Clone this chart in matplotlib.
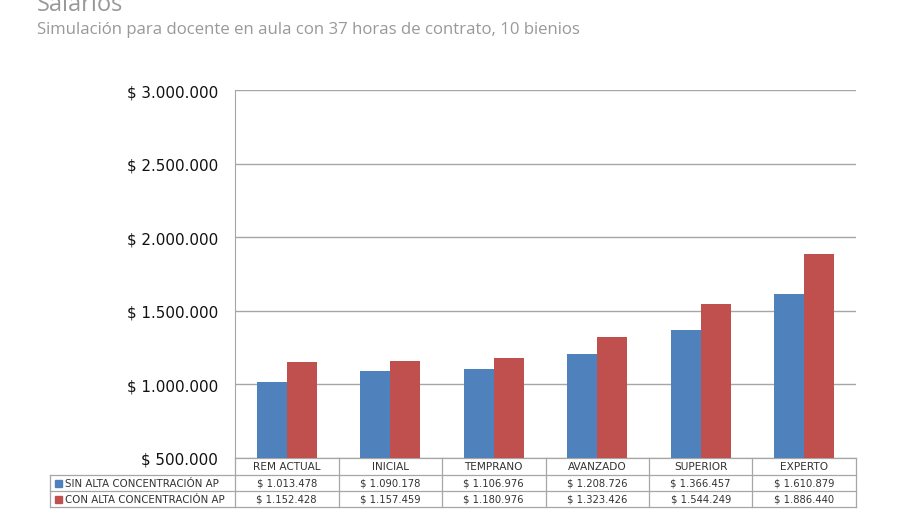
import numpy as np
import matplotlib.pyplot as plt
from matplotlib.patches import Rectangle

categories = ['REM ACTUAL', 'INICIAL', 'TEMPRANO', 'AVANZADO', 'SUPERIOR', 'EXPERTO']
series_names = ['SIN ALTA CONCENTRACIÓN AP', 'CON ALTA CONCENTRACIÓN AP']
sin_alta = [1013478, 1090178, 1106976, 1208726, 1366457, 1610879]
con_alta = [1152428, 1157459, 1180976, 1323426, 1544249, 1886440]
yticks = [500000, 1000000, 1500000, 2000000, 2500000, 3000000]

COLORS = ['#4F81BD', '#C0504D']
GRID = '#A6A6A6'


def money(v):
    return '$ ' + '{:,}'.format(v).replace(',', '.')


W, H = 900, 510
fig = plt.figure(figsize=(9, 5.1), dpi=100)
fig.patch.set_facecolor('white')

# axes box in pixels: left 235, right 856, top 91, bottom 459
ax = fig.add_axes([235 / W, 1 - 459 / H, (856 - 235) / W, (459 - 91) / H])

x = np.arange(len(categories))
bw = 0.29
ax.bar(x - bw / 2, sin_alta, width=bw, color=COLORS[0], zorder=3)
ax.bar(x + bw / 2, con_alta, width=bw, color=COLORS[1], zorder=3)

ax.set_xlim(-0.5, len(categories) - 0.5)
ax.set_ylim(yticks[0], yticks[-1])
ax.set_yticks(yticks)
ax.set_yticklabels([money(v) for v in yticks], fontsize=10.9, family='DejaVu Sans',
                   color='#111111')
ax.tick_params(axis='y', length=0, pad=12)
ax.set_xticks([])
ax.grid(axis='y', color=GRID, linewidth=1, zorder=0)
for s in ['top', 'right', 'bottom']:
    ax.spines[s].set_visible(False)
ax.spines['left'].set_color(GRID)
ax.set_facecolor('white')

# data table under the plot
ax_h = 459 - 91
row_h = [17 / ax_h, 16 / ax_h, 16 / ax_h]
tops = [0, -row_h[0], -row_h[0] - row_h[1]]
bottom = -sum(row_h)
left_col = -(235 - 50) / (856 - 235)
trans = ax.get_xaxis_transform()
lk = dict(color=GRID, linewidth=0.9, clip_on=False)

# horizontal lines
ax.plot([-0.5, len(categories) - 0.5], [0, 0], transform=trans, **lk)
for yy in [tops[1], tops[2], bottom]:
    ax.plot([left_col, 1], [yy, yy], transform=ax.transAxes, **lk)
# vertical lines
for i in range(len(categories) + 1):
    ax.plot([i - 0.5, i - 0.5], [0, bottom], transform=trans, **lk)
ax.plot([left_col, left_col], [tops[1], bottom], transform=ax.transAxes, **lk)

for i, c in enumerate(categories):
    ax.text(i, tops[0] - row_h[0] / 2, c, transform=trans, ha='center', va='center',
            fontsize=7.6, color='#333333')
    ax.text(i, tops[1] - row_h[1] / 2, money(sin_alta[i]), transform=trans, ha='center',
            va='center', fontsize=7.2, color='#333333')
    ax.text(i, tops[2] - row_h[2] / 2, money(con_alta[i]), transform=trans, ha='center',
            va='center', fontsize=7.2, color='#333333')

for k, name in enumerate(series_names):
    yc = tops[k + 1] - row_h[k + 1] / 2
    sq = 7 / (856 - 235)
    ax.add_patch(Rectangle((left_col + 5 / 621, yc - 3.5 / ax_h), sq, 7 / ax_h,
                           transform=ax.transAxes, color=COLORS[k], clip_on=False))
    ax.text(left_col + 15 / 621, yc, name, transform=ax.transAxes, ha='left', va='center',
            fontsize=7.35, color='#333333')

fig.text(37 / W, 1 - 5 / H, 'Salarios', fontsize=17, color='#999999', family='Open Sans',
         ha='left', va='center')
fig.text(37 / W, 1 - 30 / H, 'Simulación para docente en aula con 37 horas de contrato, 10 bienios',
         fontsize=12.1, color='#999999', family='Open Sans', ha='left', va='center')

fig.savefig('out.png', dpi=100, facecolor='white')
